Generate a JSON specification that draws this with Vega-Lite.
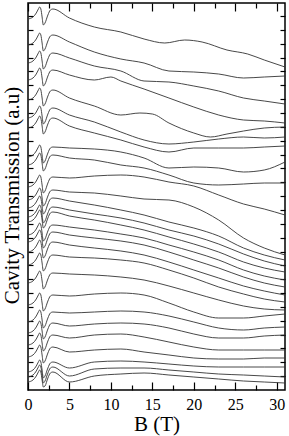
{
"$schema":"https://vega.github.io/schema/vega-lite/v6.json",
"width":257,"height":387,
"autosize":{"type":"none"},
"padding":{"left":28,"top":3,"right":4,"bottom":46},
"background":"white",
"config":{"view":{"stroke":"black","strokeWidth":1.5},"font":"Liberation Serif, Times New Roman, DejaVu Serif, serif"},
"data":{"values":[
{"c":1,"b":0,"v":371},{"c":1,"b":0.6,"v":373},{"c":1,"b":1.0,"v":377},{"c":1,"b":1.25,"v":381},{"c":1,"b":1.4,"v":383},{"c":1,"b":1.55,"v":381},{"c":1,"b":1.7,"v":373},{"c":1,"b":1.85,"v":365},{"c":1,"b":2.05,"v":367},{"c":1,"b":2.4,"v":375},{"c":1,"b":2.7,"v":380},{"c":1,"b":3.0,"v":381},
{"c":1,"b":5,"v":372},{"c":1,"b":8,"v":363},{"c":1,"b":11.2,"v":358},{"c":1,"b":14,"v":351},{"c":1,"b":16.5,"v":347},{"c":1,"b":18.9,"v":350},{"c":1,"b":21,"v":348},{"c":1,"b":24,"v":340},{"c":1,"b":26.5,"v":336},{"c":1,"b":28.5,"v":330},{"c":1,"b":31,"v":323},
{"c":2,"b":0,"v":345},{"c":2,"b":0.6,"v":347},{"c":2,"b":1.0,"v":351},{"c":2,"b":1.25,"v":355},{"c":2,"b":1.4,"v":357},{"c":2,"b":1.55,"v":355},{"c":2,"b":1.7,"v":347},{"c":2,"b":1.85,"v":339},{"c":2,"b":2.05,"v":341},{"c":2,"b":2.4,"v":349},{"c":2,"b":2.7,"v":354},{"c":2,"b":3.0,"v":355},
{"c":2,"b":5,"v":348},{"c":2,"b":8,"v":338},{"c":2,"b":11.2,"v":331},{"c":2,"b":14,"v":327},{"c":2,"b":17,"v":319},{"c":2,"b":20,"v":318},{"c":2,"b":23,"v":316},{"c":2,"b":26,"v":312},{"c":2,"b":28.5,"v":313},{"c":2,"b":31,"v":314},
{"c":3,"b":0,"v":327},{"c":3,"b":0.6,"v":329},{"c":3,"b":1.0,"v":333},{"c":3,"b":1.25,"v":337},{"c":3,"b":1.4,"v":339},{"c":3,"b":1.55,"v":337},{"c":3,"b":1.7,"v":329},{"c":3,"b":1.85,"v":321},{"c":3,"b":2.05,"v":323},{"c":3,"b":2.4,"v":331},{"c":3,"b":2.7,"v":336},{"c":3,"b":3.0,"v":337},
{"c":3,"b":5,"v":332},{"c":3,"b":8,"v":324},{"c":3,"b":11.2,"v":319},{"c":3,"b":14,"v":309},{"c":3,"b":17,"v":308},{"c":3,"b":20,"v":304},{"c":3,"b":23,"v":299},{"c":3,"b":26,"v":292},{"c":3,"b":28.5,"v":289},{"c":3,"b":31,"v":286},
{"c":4,"b":0,"v":310},{"c":4,"b":0.6,"v":312},{"c":4,"b":1.0,"v":316},{"c":4,"b":1.25,"v":320},{"c":4,"b":1.4,"v":322},{"c":4,"b":1.55,"v":320},{"c":4,"b":1.7,"v":312},{"c":4,"b":1.85,"v":304},{"c":4,"b":2.05,"v":306},{"c":4,"b":2.4,"v":314},{"c":4,"b":2.7,"v":319},{"c":4,"b":3.0,"v":320},
{"c":4,"b":5,"v":315},{"c":4,"b":8,"v":310},{"c":4,"b":10,"v":313},{"c":4,"b":11.2,"v":309},{"c":4,"b":14,"v":301},{"c":4,"b":17,"v":292},{"c":4,"b":20,"v":283},{"c":4,"b":23,"v":275},{"c":4,"b":26,"v":270},{"c":4,"b":28.5,"v":269},{"c":4,"b":31,"v":267},
{"c":5,"b":0,"v":290},{"c":5,"b":0.6,"v":292},{"c":5,"b":1.0,"v":296},{"c":5,"b":1.25,"v":300},{"c":5,"b":1.4,"v":302},{"c":5,"b":1.55,"v":300},{"c":5,"b":1.7,"v":292},{"c":5,"b":1.85,"v":284},{"c":5,"b":2.05,"v":286},{"c":5,"b":2.4,"v":294},{"c":5,"b":2.7,"v":299},{"c":5,"b":3.0,"v":300},
{"c":5,"b":5,"v":292},{"c":5,"b":8,"v":284},{"c":5,"b":11.2,"v":275},{"c":5,"b":13.5,"v":277},{"c":5,"b":15,"v":276},{"c":5,"b":17,"v":267},{"c":5,"b":20,"v":257},{"c":5,"b":22,"v":253},{"c":5,"b":24,"v":256},{"c":5,"b":26,"v":259},{"c":5,"b":28.5,"v":262},{"c":5,"b":31,"v":263},
{"c":6,"b":0,"v":272},{"c":6,"b":0.6,"v":274},{"c":6,"b":1.0,"v":278},{"c":6,"b":1.25,"v":282},{"c":6,"b":1.4,"v":284},{"c":6,"b":1.55,"v":282},{"c":6,"b":1.7,"v":274},{"c":6,"b":1.85,"v":266},{"c":6,"b":2.05,"v":268},{"c":6,"b":2.4,"v":276},{"c":6,"b":2.7,"v":281},{"c":6,"b":3.0,"v":282},
{"c":6,"b":5,"v":275},{"c":6,"b":8,"v":268},{"c":6,"b":11.2,"v":258},{"c":6,"b":14,"v":250},{"c":6,"b":17,"v":246},{"c":6,"b":20,"v":248},{"c":6,"b":23,"v":251},{"c":6,"b":26,"v":253},{"c":6,"b":28.5,"v":252},{"c":6,"b":31,"v":253},
{"c":7,"b":0,"v":262},{"c":7,"b":0.6,"v":264},{"c":7,"b":1.0,"v":268},{"c":7,"b":1.25,"v":272},{"c":7,"b":1.4,"v":274},{"c":7,"b":1.55,"v":272},{"c":7,"b":1.7,"v":264},{"c":7,"b":1.85,"v":256},{"c":7,"b":2.05,"v":258},{"c":7,"b":2.4,"v":266},{"c":7,"b":2.7,"v":271},{"c":7,"b":3.0,"v":272},
{"c":7,"b":5,"v":264},{"c":7,"b":8,"v":257},{"c":7,"b":11.2,"v":250},{"c":7,"b":14,"v":243},{"c":7,"b":17,"v":238},{"c":7,"b":20,"v":242},{"c":7,"b":23,"v":242},{"c":7,"b":26,"v":242},{"c":7,"b":28.5,"v":243},{"c":7,"b":31,"v":244},
{"c":8,"b":0,"v":233},{"c":8,"b":0.6,"v":235},{"c":8,"b":1.0,"v":239},{"c":8,"b":1.25,"v":243},{"c":8,"b":1.4,"v":245},{"c":8,"b":1.55,"v":243},{"c":8,"b":1.7,"v":235},{"c":8,"b":1.85,"v":227},{"c":8,"b":2.05,"v":229},{"c":8,"b":2.4,"v":237},{"c":8,"b":2.7,"v":242},{"c":8,"b":3.0,"v":243},
{"c":8,"b":5,"v":242},{"c":8,"b":8,"v":241},{"c":8,"b":11.2,"v":238},{"c":8,"b":14,"v":232},{"c":8,"b":17,"v":222},{"c":8,"b":20,"v":223},{"c":8,"b":23,"v":222},{"c":8,"b":26,"v":218},{"c":8,"b":28.5,"v":220},{"c":8,"b":31,"v":228},
{"c":9,"b":0,"v":225},{"c":9,"b":0.6,"v":227},{"c":9,"b":1.0,"v":231},{"c":9,"b":1.25,"v":235},{"c":9,"b":1.4,"v":237},{"c":9,"b":1.55,"v":235},{"c":9,"b":1.7,"v":227},{"c":9,"b":1.85,"v":219},{"c":9,"b":2.05,"v":221},{"c":9,"b":2.4,"v":229},{"c":9,"b":2.7,"v":234},{"c":9,"b":3.0,"v":235},
{"c":9,"b":5,"v":232},{"c":9,"b":8,"v":230},{"c":9,"b":11.2,"v":225},{"c":9,"b":14,"v":222},{"c":9,"b":17,"v":215},{"c":9,"b":20,"v":207},{"c":9,"b":23,"v":205},{"c":9,"b":26,"v":206},{"c":9,"b":28.5,"v":207},{"c":9,"b":31,"v":207},
{"c":10,"b":0,"v":203},{"c":10,"b":0.6,"v":205},{"c":10,"b":1.0,"v":209},{"c":10,"b":1.25,"v":213},{"c":10,"b":1.4,"v":215},{"c":10,"b":1.55,"v":213},{"c":10,"b":1.7,"v":205},{"c":10,"b":1.85,"v":197},{"c":10,"b":2.05,"v":199},{"c":10,"b":2.4,"v":207},{"c":10,"b":2.7,"v":212},{"c":10,"b":3.0,"v":213},
{"c":10,"b":5,"v":212},{"c":10,"b":8,"v":214},{"c":10,"b":11.2,"v":215},{"c":10,"b":14,"v":213},{"c":10,"b":17,"v":208},{"c":10,"b":20,"v":204},{"c":10,"b":23,"v":195},{"c":10,"b":26,"v":186},{"c":10,"b":28.5,"v":181},{"c":10,"b":31,"v":175},
{"c":11,"b":0,"v":190},{"c":11,"b":0.6,"v":192},{"c":11,"b":1.0,"v":196},{"c":11,"b":1.25,"v":200},{"c":11,"b":1.4,"v":202},{"c":11,"b":1.55,"v":200},{"c":11,"b":1.7,"v":192},{"c":11,"b":1.85,"v":184},{"c":11,"b":2.05,"v":186},{"c":11,"b":2.4,"v":194},{"c":11,"b":2.7,"v":199},{"c":11,"b":3.0,"v":200},
{"c":11,"b":5,"v":198},{"c":11,"b":8,"v":197},{"c":11,"b":11.2,"v":194},{"c":11,"b":14,"v":191},{"c":11,"b":17,"v":190},{"c":11,"b":20,"v":183},{"c":11,"b":23,"v":170},{"c":11,"b":26,"v":152},{"c":11,"b":28.5,"v":142},{"c":11,"b":31,"v":135},
{"c":12,"b":0,"v":182},{"c":12,"b":0.6,"v":184},{"c":12,"b":1.0,"v":188},{"c":12,"b":1.25,"v":192},{"c":12,"b":1.4,"v":194},{"c":12,"b":1.55,"v":192},{"c":12,"b":1.7,"v":184},{"c":12,"b":1.85,"v":176},{"c":12,"b":2.05,"v":178},{"c":12,"b":2.4,"v":186},{"c":12,"b":2.7,"v":191},{"c":12,"b":3.0,"v":192},
{"c":12,"b":5,"v":189},{"c":12,"b":8,"v":185},{"c":12,"b":11.2,"v":180},{"c":12,"b":14,"v":175},{"c":12,"b":17,"v":168},{"c":12,"b":20,"v":162},{"c":12,"b":23,"v":154},{"c":12,"b":26,"v":142},{"c":12,"b":28.5,"v":135},{"c":12,"b":31,"v":130},
{"c":13,"b":0,"v":173},{"c":13,"b":0.6,"v":175},{"c":13,"b":1.0,"v":179},{"c":13,"b":1.25,"v":183},{"c":13,"b":1.4,"v":185},{"c":13,"b":1.55,"v":183},{"c":13,"b":1.7,"v":175},{"c":13,"b":1.85,"v":167},{"c":13,"b":2.05,"v":169},{"c":13,"b":2.4,"v":177},{"c":13,"b":2.7,"v":182},{"c":13,"b":3.0,"v":183},
{"c":13,"b":5,"v":180},{"c":13,"b":8,"v":176},{"c":13,"b":11.2,"v":172},{"c":13,"b":14,"v":167},{"c":13,"b":17,"v":160},{"c":13,"b":20,"v":154},{"c":13,"b":23,"v":146},{"c":13,"b":26,"v":136},{"c":13,"b":28.5,"v":129},{"c":13,"b":31,"v":124},
{"c":14,"b":0,"v":168},{"c":14,"b":0.6,"v":170},{"c":14,"b":1.0,"v":174},{"c":14,"b":1.25,"v":178},{"c":14,"b":1.4,"v":180},{"c":14,"b":1.55,"v":178},{"c":14,"b":1.7,"v":170},{"c":14,"b":1.85,"v":162},{"c":14,"b":2.05,"v":164},{"c":14,"b":2.4,"v":172},{"c":14,"b":2.7,"v":177},{"c":14,"b":3.0,"v":178},
{"c":14,"b":5,"v":174},{"c":14,"b":8,"v":170},{"c":14,"b":11.2,"v":165},{"c":14,"b":14,"v":160},{"c":14,"b":17,"v":153},{"c":14,"b":20,"v":146},{"c":14,"b":23,"v":138},{"c":14,"b":26,"v":128},{"c":14,"b":28.5,"v":122},{"c":14,"b":31,"v":118},
{"c":15,"b":0,"v":155},{"c":15,"b":0.6,"v":157},{"c":15,"b":1.0,"v":161},{"c":15,"b":1.25,"v":165},{"c":15,"b":1.4,"v":167},{"c":15,"b":1.55,"v":165},{"c":15,"b":1.7,"v":157},{"c":15,"b":1.85,"v":149},{"c":15,"b":2.05,"v":151},{"c":15,"b":2.4,"v":159},{"c":15,"b":2.7,"v":164},{"c":15,"b":3.0,"v":165},
{"c":15,"b":5,"v":163},{"c":15,"b":8,"v":160},{"c":15,"b":11.2,"v":156},{"c":15,"b":14,"v":152},{"c":15,"b":17,"v":145},{"c":15,"b":20,"v":138},{"c":15,"b":23,"v":130},{"c":15,"b":26,"v":120},{"c":15,"b":28.5,"v":114},{"c":15,"b":31,"v":110},
{"c":16,"b":0,"v":148},{"c":16,"b":0.6,"v":150},{"c":16,"b":1.0,"v":154},{"c":16,"b":1.25,"v":158},{"c":16,"b":1.4,"v":160},{"c":16,"b":1.55,"v":158},{"c":16,"b":1.7,"v":150},{"c":16,"b":1.85,"v":142},{"c":16,"b":2.05,"v":144},{"c":16,"b":2.4,"v":152},{"c":16,"b":2.7,"v":157},{"c":16,"b":3.0,"v":158},
{"c":16,"b":5,"v":155},{"c":16,"b":8,"v":152},{"c":16,"b":11.2,"v":149},{"c":16,"b":14,"v":145},{"c":16,"b":17,"v":138},{"c":16,"b":20,"v":130},{"c":16,"b":23,"v":122},{"c":16,"b":26,"v":113},{"c":16,"b":28.5,"v":107},{"c":16,"b":31,"v":103},
{"c":17,"b":0,"v":138},{"c":17,"b":0.6,"v":140},{"c":17,"b":1.0,"v":144},{"c":17,"b":1.25,"v":148},{"c":17,"b":1.4,"v":150},{"c":17,"b":1.55,"v":148},{"c":17,"b":1.7,"v":140},{"c":17,"b":1.85,"v":132},{"c":17,"b":2.05,"v":134},{"c":17,"b":2.4,"v":142},{"c":17,"b":2.7,"v":147},{"c":17,"b":3.0,"v":148},
{"c":17,"b":5,"v":145},{"c":17,"b":8,"v":142},{"c":17,"b":11.2,"v":139},{"c":17,"b":14,"v":135},{"c":17,"b":17,"v":128},{"c":17,"b":20,"v":120},{"c":17,"b":23,"v":112},{"c":17,"b":26,"v":104},{"c":17,"b":28.5,"v":99},{"c":17,"b":31,"v":95},
{"c":18,"b":0,"v":125},{"c":18,"b":0.6,"v":127},{"c":18,"b":1.0,"v":131},{"c":18,"b":1.25,"v":135},{"c":18,"b":1.4,"v":137},{"c":18,"b":1.55,"v":135},{"c":18,"b":1.7,"v":127},{"c":18,"b":1.85,"v":119},{"c":18,"b":2.05,"v":121},{"c":18,"b":2.4,"v":129},{"c":18,"b":2.7,"v":134},{"c":18,"b":3.0,"v":135},
{"c":18,"b":5,"v":133},{"c":18,"b":8,"v":132},{"c":18,"b":11.2,"v":130},{"c":18,"b":14,"v":127},{"c":18,"b":17,"v":120},{"c":18,"b":20,"v":112},{"c":18,"b":23,"v":103},{"c":18,"b":26,"v":96},{"c":18,"b":28.5,"v":91},{"c":18,"b":31,"v":88},
{"c":19,"b":0,"v":107},{"c":19,"b":0.6,"v":109},{"c":19,"b":1.0,"v":113},{"c":19,"b":1.25,"v":117},{"c":19,"b":1.4,"v":119},{"c":19,"b":1.55,"v":117},{"c":19,"b":1.7,"v":109},{"c":19,"b":1.85,"v":101},{"c":19,"b":2.05,"v":103},{"c":19,"b":2.4,"v":111},{"c":19,"b":2.7,"v":116},{"c":19,"b":3.0,"v":117},
{"c":19,"b":5,"v":116},{"c":19,"b":8,"v":115},{"c":19,"b":11.2,"v":113},{"c":19,"b":14,"v":110},{"c":19,"b":17,"v":104},{"c":19,"b":20,"v":97},{"c":19,"b":23,"v":90},{"c":19,"b":26,"v":84},{"c":19,"b":28.5,"v":81},{"c":19,"b":31,"v":80},
{"c":20,"b":0,"v":85},{"c":20,"b":0.6,"v":87},{"c":20,"b":1.0,"v":91},{"c":20,"b":1.25,"v":95},{"c":20,"b":1.4,"v":97},{"c":20,"b":1.55,"v":95},{"c":20,"b":1.7,"v":87},{"c":20,"b":1.85,"v":79},{"c":20,"b":2.05,"v":81},{"c":20,"b":2.4,"v":89},{"c":20,"b":2.7,"v":94},{"c":20,"b":3.0,"v":95},
{"c":20,"b":5,"v":94},{"c":20,"b":8,"v":96},{"c":20,"b":11.2,"v":97},{"c":20,"b":14,"v":95},{"c":20,"b":17,"v":87},{"c":20,"b":20,"v":78},{"c":20,"b":23,"v":72},{"c":20,"b":26,"v":72},{"c":20,"b":28.5,"v":74},{"c":20,"b":31,"v":76},
{"c":21,"b":0,"v":68},{"c":21,"b":0.6,"v":70},{"c":21,"b":1.0,"v":74},{"c":21,"b":1.25,"v":78},{"c":21,"b":1.4,"v":80},{"c":21,"b":1.55,"v":78},{"c":21,"b":1.7,"v":70},{"c":21,"b":1.85,"v":62},{"c":21,"b":2.05,"v":64},{"c":21,"b":2.4,"v":72},{"c":21,"b":2.7,"v":77},{"c":21,"b":3.0,"v":78},
{"c":21,"b":5,"v":77},{"c":21,"b":8,"v":78},{"c":21,"b":11.2,"v":79},{"c":21,"b":14,"v":78},{"c":21,"b":17,"v":74},{"c":21,"b":20,"v":68},{"c":21,"b":23,"v":62},{"c":21,"b":26,"v":60},{"c":21,"b":28.5,"v":62},{"c":21,"b":31,"v":63},
{"c":22,"b":0,"v":57},{"c":22,"b":0.6,"v":59},{"c":22,"b":1.0,"v":63},{"c":22,"b":1.25,"v":67},{"c":22,"b":1.4,"v":69},{"c":22,"b":1.55,"v":67},{"c":22,"b":1.7,"v":59},{"c":22,"b":1.85,"v":51},{"c":22,"b":2.05,"v":53},{"c":22,"b":2.4,"v":61},{"c":22,"b":2.7,"v":66},{"c":22,"b":3.0,"v":67},
{"c":22,"b":5,"v":64},{"c":22,"b":8,"v":66},{"c":22,"b":11.2,"v":67},{"c":22,"b":14,"v":66},{"c":22,"b":17,"v":62},{"c":22,"b":20,"v":56},{"c":22,"b":23,"v":52},{"c":22,"b":26,"v":52},{"c":22,"b":28.5,"v":54},{"c":22,"b":31,"v":55},
{"c":23,"b":0,"v":45},{"c":23,"b":0.6,"v":47},{"c":23,"b":1.0,"v":51},{"c":23,"b":1.25,"v":55},{"c":23,"b":1.4,"v":57},{"c":23,"b":1.55,"v":55},{"c":23,"b":1.7,"v":47},{"c":23,"b":1.85,"v":39},{"c":23,"b":2.05,"v":41},{"c":23,"b":2.4,"v":49},{"c":23,"b":2.7,"v":54},{"c":23,"b":3.0,"v":55},
{"c":23,"b":5,"v":52},{"c":23,"b":8,"v":55},{"c":23,"b":11.2,"v":56},{"c":23,"b":14,"v":53},{"c":23,"b":17,"v":48},{"c":23,"b":20,"v":43},{"c":23,"b":23,"v":40},{"c":23,"b":26,"v":40},{"c":23,"b":28.5,"v":40},{"c":23,"b":31,"v":40},
{"c":24,"b":0,"v":33},{"c":24,"b":0.6,"v":35},{"c":24,"b":1.0,"v":39},{"c":24,"b":1.25,"v":43},{"c":24,"b":1.4,"v":45},{"c":24,"b":1.55,"v":43},{"c":24,"b":1.7,"v":35},{"c":24,"b":1.85,"v":27},{"c":24,"b":2.05,"v":29},{"c":24,"b":2.4,"v":37},{"c":24,"b":2.7,"v":42},{"c":24,"b":3.0,"v":43},
{"c":24,"b":5,"v":38},{"c":24,"b":8,"v":40},{"c":24,"b":11.2,"v":41},{"c":24,"b":14,"v":38},{"c":24,"b":17,"v":35},{"c":24,"b":20,"v":32},{"c":24,"b":23,"v":31},{"c":24,"b":26,"v":31},{"c":24,"b":28.5,"v":32},{"c":24,"b":31,"v":32},
{"c":25,"b":0,"v":18},{"c":25,"b":0.6,"v":20},{"c":25,"b":1.0,"v":24},{"c":25,"b":1.25,"v":28},{"c":25,"b":1.4,"v":30},{"c":25,"b":1.55,"v":28},{"c":25,"b":1.7,"v":20},{"c":25,"b":1.85,"v":12},{"c":25,"b":2.05,"v":14},{"c":25,"b":2.4,"v":22},{"c":25,"b":2.7,"v":27},{"c":25,"b":3.0,"v":28},
{"c":25,"b":5,"v":22},{"c":25,"b":8,"v":28},{"c":25,"b":11.2,"v":29},{"c":25,"b":14,"v":28},{"c":25,"b":17,"v":26},{"c":25,"b":20,"v":24},{"c":25,"b":23,"v":23},{"c":25,"b":26,"v":23},{"c":25,"b":28.5,"v":23},{"c":25,"b":31,"v":23},
{"c":26,"b":0,"v":13},{"c":26,"b":0.6,"v":15},{"c":26,"b":1.0,"v":19},{"c":26,"b":1.25,"v":23},{"c":26,"b":1.4,"v":25},{"c":26,"b":1.55,"v":23},{"c":26,"b":1.7,"v":15},{"c":26,"b":1.85,"v":7},{"c":26,"b":2.05,"v":9},{"c":26,"b":2.4,"v":17},{"c":26,"b":2.7,"v":22},{"c":26,"b":3.0,"v":23},
{"c":26,"b":5,"v":14},{"c":26,"b":8,"v":21},{"c":26,"b":11.2,"v":22},{"c":26,"b":14,"v":22},{"c":26,"b":17,"v":20},{"c":26,"b":20,"v":18},{"c":26,"b":23,"v":16},{"c":26,"b":26,"v":15},{"c":26,"b":28.5,"v":14},{"c":26,"b":31,"v":13},
{"c":27,"b":0,"v":8},{"c":27,"b":0.6,"v":10},{"c":27,"b":1.0,"v":14},{"c":27,"b":1.25,"v":18},{"c":27,"b":1.4,"v":20},{"c":27,"b":1.55,"v":18},{"c":27,"b":1.7,"v":10},{"c":27,"b":1.85,"v":3},{"c":27,"b":2.05,"v":4},{"c":27,"b":2.4,"v":12},{"c":27,"b":2.7,"v":17},{"c":27,"b":3.0,"v":18},
{"c":27,"b":5,"v":8},{"c":27,"b":8,"v":14},{"c":27,"b":11.2,"v":16},{"c":27,"b":14,"v":17},{"c":27,"b":17,"v":15},{"c":27,"b":20,"v":13},{"c":27,"b":23,"v":11},{"c":27,"b":26,"v":9},{"c":27,"b":28.5,"v":8},{"c":27,"b":31,"v":7}
]},
"resolve":{"axis":{"x":"independent","y":"independent"}},
"layer":[
{"mark":{"type":"line","color":"#333","strokeWidth":0.9,"interpolate":"monotone","clip":true},
 "encoding":{
  "x":{"field":"b","type":"quantitative","scale":{"domain":[0,31],"nice":false,"zero":false},
   "axis":{"orient":"bottom","title":"B (T)","values":[0,2.5,5,7.5,10,12.5,15,17.5,20,22.5,25,27.5,30],
    "labelExpr":"datum.value % 5 === 0 ? datum.label : ''","domain":false,"grid":false,
    "tickSize":{"condition":{"test":"datum.value % 5 === 0","value":-8},"value":-5},"tickColor":"black","tickWidth":1.2,
    "labelFont":"Liberation Serif, Times New Roman, DejaVu Serif, serif","labelFontSize":16,"labelColor":"black","labelPadding":14,"labelFlush":false,
    "titleFont":"Liberation Serif, Times New Roman, DejaVu Serif, serif","titleFontSize":21,"titleFontWeight":"normal","titleColor":"black","titleBaseline":"alphabetic","titleY":40}},
  "y":{"field":"v","type":"quantitative","scale":{"domain":[0,387],"nice":false,"zero":false},
   "axis":{"orient":"left","title":"Cavity Transmission (a.u)","values":[13.85,27.7,41.55,55.4,69.25,83.1,96.95,110.8,124.65,138.5,152.35,166.2,180.05,193.9,207.75,221.6,235.45,249.3,263.15,277,290.85,304.7,318.55,332.4,346.25,360.1,373.95],
    "labels":false,"domain":false,"grid":false,"tickSize":-5,"tickColor":"black","tickWidth":1.2,
    "titleFont":"Liberation Serif, Times New Roman, DejaVu Serif, serif","titleFontSize":21,"titleFontWeight":"normal","titleColor":"black","titleBaseline":"alphabetic","titleX":-10,"titleY":192}},
  "detail":{"field":"c","type":"nominal"},
  "order":{"field":"b","type":"quantitative"}
 }},
{"mark":{"type":"point","opacity":0},
 "encoding":{
  "x":{"field":"b","type":"quantitative",
   "axis":{"orient":"top","title":null,"labels":false,"values":[0,2.5,5,7.5,10,12.5,15,17.5,20,22.5,25,27.5,30],"domain":false,"grid":false,
    "tickSize":{"condition":{"test":"datum.value % 5 === 0","value":-8},"value":-5},"tickColor":"black","tickWidth":1.2}},
  "y":{"field":"v","type":"quantitative",
   "axis":{"orient":"right","title":null,"labels":false,"values":[13.85,27.7,41.55,55.4,69.25,83.1,96.95,110.8,124.65,138.5,152.35,166.2,180.05,193.9,207.75,221.6,235.45,249.3,263.15,277,290.85,304.7,318.55,332.4,346.25,360.1,373.95],"domain":false,"grid":false,"tickSize":-5,"tickColor":"black","tickWidth":1.2}}
 }}
]
}
